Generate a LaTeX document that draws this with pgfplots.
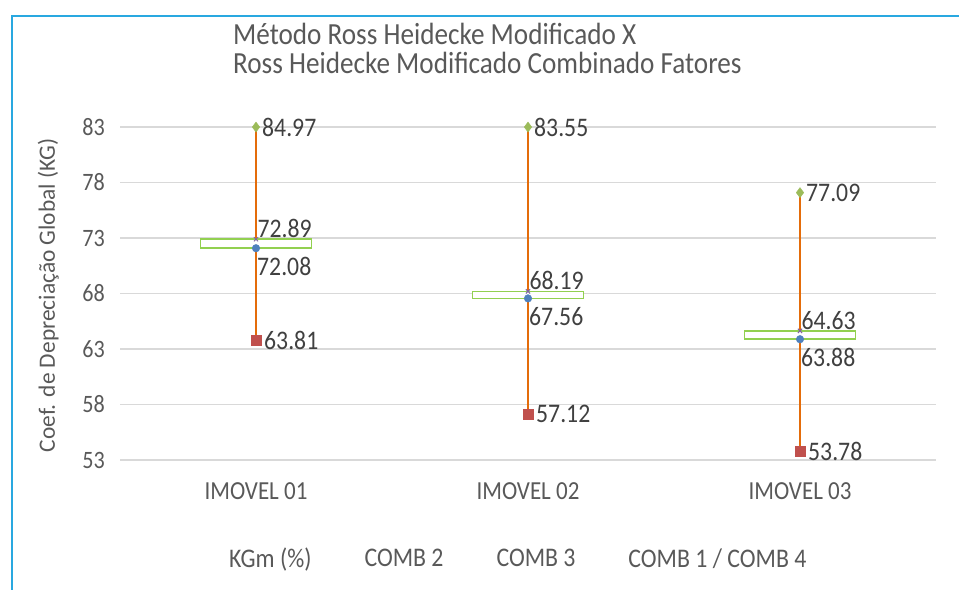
\documentclass[border=0pt]{standalone}
\usepackage{pgfplots}
\pgfplotsset{compat=1.18}
\usepackage{pgfplotstable}
\usepackage{fontspec}
\setmainfont{Carlito}[FakeStretch=0.885]
\newfontfamily\plainfont{Carlito}

\definecolor{frameblue}{RGB}{41,168,224}
\definecolor{gridgray}{RGB}{217,217,217}
\definecolor{txtgray}{RGB}{89,89,89}
\definecolor{lbldark}{RGB}{64,64,64}
\definecolor{hlorange}{RGB}{228,108,10}
\definecolor{higreen}{RGB}{155,187,89}
\definecolor{lored}{RGB}{192,80,77}
\definecolor{boxgreen}{RGB}{146,208,80}
\definecolor{closeblue}{RGB}{79,129,189}
\definecolor{openpurple}{RGB}{128,100,162}

% open / high / low / close for each property
\pgfplotstableread{
x open high low close
0 72.89 84.97 63.81 72.08
1 68.19 83.55 57.12 67.56
2 64.63 77.09 53.78 63.88
}\ohlc

\newcommand{\lblfont}{\fontsize{26.8bp}{30bp}\selectfont}

\pgfplotsset{
  vlabel/.style={
    point meta=explicit,
    nodes near coords={\pgfmathprintnumber[fixed,fixed zerofill,precision=2]{\pgfplotspointmeta}},
    every node near coord/.append style={font=\lblfont, text=lbldark, inner sep=1bp, #1}},
}

\begin{document}
\begin{tikzpicture}
\path[use as bounding box] (0,0) rectangle (959bp,-590bp);
\draw[frameblue, line width=2bp] (11.5bp,-600bp) -- (11.5bp,-15.5bp) -- (975bp,-15.5bp);
% chart title
\node[anchor=north west, inner sep=0pt, align=left, text=txtgray,
      font=\fontsize{30.7bp}{29bp}\selectfont] at (233bp,-22.5bp)
  {Método Ross Heidecke Modificado X\\Ross Heidecke Modificado Combinado Fatores};
\begin{axis}[
  at={(120bp,-460bp)}, anchor=south west,
  scale only axis, width=816bp, height=333bp,
  xmin=-0.5, xmax=2.5, ymin=53, ymax=83,
  clip=false,
  xtick={0,1,2},
  xticklabels={IMOVEL 01, IMOVEL 02, IMOVEL 03},
  ytick={53,58,...,83},
  ymajorgrids, grid style={gridgray, line width=1.3bp},
  axis line style={draw=none},
  major tick length=0pt,
  /pgf/number format/assume math mode=true,
  tick label style={text=txtgray},
  yticklabel style={anchor=east, inner sep=0pt, xshift=-15bp,
    font=\fontsize{25bp}{28bp}\selectfont},
  xticklabel style={anchor=north, inner sep=0pt, yshift=-22bp,
    font=\fontsize{26bp}{28bp}\selectfont},
  ylabel={Coef. de Depreciação Global (KG)},
  ylabel style={at={(axis description cs:-0.088,0.495)}, anchor=center,
    font=\plainfont\fontsize{23.4bp}{27bp}\selectfont, text=txtgray},
  legend columns=-1,
  legend style={at={(axis description cs:0.1275,-0.297)}, anchor=west, draw=none, fill=none,
    font=\fontsize{26.9bp}{28bp}\selectfont, text=txtgray,
    /tikz/every even column/.append style={column sep=49bp}},
]
% high-low line
\addplot[draw=none, mark=none, forget plot,
  error bars/.cd, y dir=plus, y explicit, error mark=none,
  error bar style={draw=hlorange, line width=1.6bp}]
  table[x=x, y=low, y error expr={min(\thisrow{high},83)-\thisrow{low}}]{\ohlc};
% open and close markers
\addplot[only marks, mark=x, mark size=3bp, draw=openpurple, line width=1bp, forget plot,
  vlabel={anchor=south west}]
  table[x=x, y=open, meta=open]{\ohlc};
\addplot[only marks, mark=*, mark size=3.8bp, draw=closeblue, fill=closeblue, forget plot,
  vlabel={anchor=north west, yshift=-8bp}]
  table[x=x, y=close, meta=close]{\ohlc};
% up-down bars between open and close
\pgfplotsinvokeforeach{0,1,2}{
  \pgfplotstablegetelem{#1}{open}\of\ohlc \let\vopen\pgfplotsretval
  \pgfplotstablegetelem{#1}{close}\of\ohlc \let\vclose\pgfplotsretval
  \pgfmathsetmacro\xl{#1-0.204}\pgfmathsetmacro\xr{#1+0.204}
  \edef\doBox{\noexpand\addplot[draw=boxgreen, fill=white, line width=1.6bp, forget plot]
    coordinates {(\xl,\vclose) (\xr,\vclose) (\xr,\vopen) (\xl,\vopen)} -- cycle;}
  \doBox
}
% high and low markers
\addplot[only marks, mark=diamond*, mark size=5bp, draw=higreen, fill=higreen, forget plot,
  vlabel={anchor=west, xshift=5bp}]
  table[x=x, y expr={min(\thisrow{high},83)}, meta=high]{\ohlc};
\addplot[only marks, mark=square*, mark size=5bp, draw=lored, fill=lored, forget plot,
  vlabel={anchor=west, xshift=7bp}]
  table[x=x, y=low, meta=low]{\ohlc};
% legend entries
\addlegendimage{empty legend}\addlegendentry{KGm (\%)}
\addlegendimage{empty legend}\addlegendentry{COMB 2}
\addlegendimage{empty legend}\addlegendentry{COMB 3}
\addlegendimage{empty legend}\addlegendentry{COMB 1 / COMB 4}
\end{axis}
\end{tikzpicture}
\end{document}
